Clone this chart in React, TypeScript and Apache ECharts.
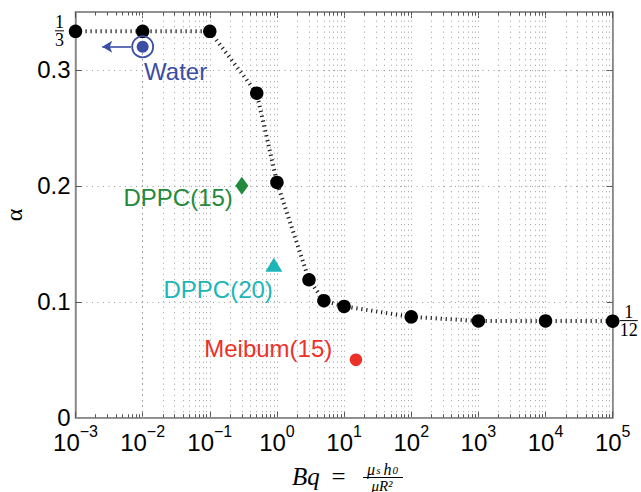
import React, { useEffect, useRef } from 'react';
import * as echarts from 'echarts';

// ---- data ----
const bqValues = [0.001, 0.01, 0.1, 0.5, 1, 3, 5, 10, 100, 1000, 10000, 100000];
const alphaValues = [1 / 3, 1 / 3, 1 / 3, 0.28, 0.203, 0.119, 0.101, 0.096, 0.087, 0.0835, 0.0835, 0.0833];
const waterPoint = [0.01, 0.32];
const dppc15Point = [0.3, 0.2];
const dppc20Point = [0.9, 0.132];
const meibumPoint = [15, 0.05];
const waterArrowFrom = [0.0067, 0.32];
const waterArrowTo = [0.0025, 0.32];
const yTickValues = [0, 0.1, 0.2, 0.3];
const yTickLabelValues = [0, 0.1, 0.2, 0.3, 1 / 3];
const rightLabelValues = [1 / 12];
const xMinExp = -3;
const xMaxExp = 5;

const SANS = '"Liberation Sans", Arial, Helvetica, sans-serif';
const SERIF = '"Liberation Serif", "Times New Roman", serif';
const AXIS_GRAY = '#8a8a8a';
const GRID_GRAY = '#9c9c9c';
const BLUE = '#3b4ea5';
const GREEN = '#238a3c';
const TEAL = '#1cb6b9';
const RED = '#ec3129';

// log grid positions m*10^k (axis structure)
const gridVals: number[] = [];
const minorVals: number[] = [];
for (let k = xMinExp; k < xMaxExp; k++) {
  for (let m = 1; m <= 9; m++) {
    const v = +(m * Math.pow(10, k)).toPrecision(6);
    if (!(k === xMinExp && m === 1)) gridVals.push(v);
    if (m !== 1) minorVals.push(v);
  }
}

const fracRich = {
  n: { fontFamily: SERIF, fontSize: 18, lineHeight: 15, width: 22, align: 'center', color: '#000' },
  d: { fontFamily: SERIF, fontSize: 18, lineHeight: 16, width: 22, align: 'center', color: '#000' },
  bs: { width: 9, height: 1, lineHeight: 3, align: 'center', backgroundColor: '#000', fontSize: 1 },
  bl: { width: 18, height: 1, lineHeight: 3, align: 'center', backgroundColor: '#000', fontSize: 1 },
  t: { fontFamily: SANS, fontSize: 24, color: '#000' },
};

const expRich = {
  b: { fontFamily: SANS, fontSize: 24, lineHeight: 31, verticalAlign: 'bottom', color: '#000' },
  e: { fontFamily: SANS, fontSize: 16, lineHeight: 16, verticalAlign: 'top', color: '#000' },
};

function expLabel(v: number) {
  const e = Math.round(Math.log10(v));
  return '{b|10}{e|' + (e < 0 ? '\u2212' + -e : String(e)) + '}';
}

function yLabel(v: number) {
  if (Math.abs(v - 1 / 3) < 1e-9) return '{n|1}\n{bs| }\n{d|3}';
  return '{t|' + (v === 0 ? '0' : v.toFixed(1)) + '}';
}

function buildOption() {
  const gridLineStyle = { color: GRID_GRAY, width: 1, type: [1, 4.5] };
  const tickStyle = { color: '#555', width: 1, type: 'solid' };
  const markData: any[] = gridVals.map((v) => ({ xAxis: v, lineStyle: gridLineStyle }));
  minorVals.forEach((v) => {
    markData.push([{ coord: [v, 0], lineStyle: tickStyle }, { coord: [v, 0.003] }]);
    markData.push([{ coord: [v, 0.35], lineStyle: tickStyle }, { coord: [v, 0.347] }]);
  });

  const markerLabel = (text: string, color: string, offset: number[]) => ({
    show: true,
    position: 'inside',
    offset,
    formatter: () => text,
    color,
    opacity: 1,
    fontSize: 24,
    fontFamily: SANS,
  });

  return {
    animation: false,
    backgroundColor: '#ffffff',
    grid: {
      left: 75.5,
      right: 28.3,
      top: 12,
      bottom: 74.3,
      containLabel: false,
      outerBoundsMode: 'none',
      show: true,
      borderColor: AXIS_GRAY,
      borderWidth: 1.5,
      backgroundColor: '#ffffff',
    },
    xAxis: [
      {
        type: 'log',
        logBase: 10,
        min: Math.pow(10, xMinExp),
        max: Math.pow(10, xMaxExp),
        interval: 1,
        position: 'bottom',
        axisLine: { show: true, onZero: false, lineStyle: { color: AXIS_GRAY, width: 1.5 } },
        axisTick: { show: true, inside: true, length: 6, lineStyle: { color: '#555' } },
        axisLabel: {
          show: true,
          interval: 0,
          showMinLabel: true,
          showMaxLabel: true,
          margin: 6,
          formatter: expLabel,
          rich: expRich,
        },
        splitLine: { show: false },
      },
      {
        type: 'log',
        logBase: 10,
        min: Math.pow(10, xMinExp),
        max: Math.pow(10, xMaxExp),
        interval: 1,
        position: 'top',
        axisLine: { show: true, onZero: false, lineStyle: { color: AXIS_GRAY, width: 1.5 } },
        axisTick: { show: true, inside: true, length: 6, lineStyle: { color: '#555' } },
        axisLabel: { show: false },
        splitLine: { show: false },
      },
    ],
    yAxis: [
      {
        type: 'value',
        min: 0,
        max: 0.35,
        interval: 0.1,
        position: 'left',
        name: '\u03b1',
        nameLocation: 'middle',
        nameRotate: 90,
        nameGap: 48,
        nameTextStyle: { fontFamily: SERIF, fontSize: 24, lineHeight: 18, color: '#000' },
        axisLine: { show: true, onZero: false, lineStyle: { color: AXIS_GRAY, width: 1.5 } },
        axisTick: { show: true, inside: true, length: 6, customValues: yTickValues.slice(1), lineStyle: { color: '#555' } },
        axisLabel: {
          show: true,
          margin: 5,
          customValues: yTickLabelValues,
          formatter: yLabel,
          rich: fracRich,
        },
        splitLine: { show: true, lineStyle: gridLineStyle },
      },
      {
        type: 'value',
        min: 0,
        max: 0.35,
        interval: 0.1,
        position: 'right',
        axisLine: { show: true, onZero: false, lineStyle: { color: AXIS_GRAY, width: 1.5 } },
        axisTick: { show: true, inside: true, length: 6, customValues: yTickValues.slice(1), lineStyle: { color: '#555' } },
        axisLabel: {
          show: true,
          margin: 5,
          customValues: rightLabelValues,
          formatter: () => '{n|1}\n{bl| }\n{d|12}',
          rich: fracRich,
        },
        splitLine: { show: false },
      },
    ],
    series: [
      {
        type: 'line',
        name: 'theory',
        xAxisIndex: 0,
        yAxisIndex: 0,
        data: bqValues.map((x, i) => [x, alphaValues[i]]),
        symbol: 'circle',
        symbolSize: 13.5,
        showSymbol: true,
        itemStyle: { color: '#000', opacity: 1 },
        lineStyle: { color: '#222', width: 4, type: [1.2, 3.8] },
        z: 3,
        silent: true,
        markLine: {
          silent: true,
          z: 1,
          symbol: ['none', 'none'],
          label: { show: false },
          data: markData,
        },
      },
      {
        type: 'scatter',
        name: 'Water ring',
        data: [waterPoint],
        symbol: 'circle',
        symbolSize: 21,
        itemStyle: { color: 'transparent', borderColor: BLUE, borderWidth: 1.8, opacity: 1 },
        z: 4,
        silent: true,
      },
      {
        type: 'scatter',
        name: 'Water',
        data: [waterPoint],
        symbol: 'circle',
        symbolSize: 12,
        itemStyle: { color: BLUE, opacity: 1 },
        label: markerLabel('Water', BLUE, [33, 24.5]),
        z: 4,
        silent: true,
        markLine: {
          silent: true,
          symbol: ['none', 'arrow'],
          symbolSize: [9, 10],
          label: { show: false },
          lineStyle: { color: BLUE, width: 1.6, type: 'solid', opacity: 1 },
          data: [[{ coord: waterArrowFrom }, { coord: waterArrowTo }]],
        },
      },
      {
        type: 'scatter',
        name: 'DPPC(15)',
        data: [dppc15Point],
        symbol: 'diamond',
        symbolSize: [13, 18],
        itemStyle: { color: GREEN, opacity: 1 },
        label: markerLabel('DPPC(15)', GREEN, [-63.7, 12]),
        z: 4,
        silent: true,
      },
      {
        type: 'scatter',
        name: 'DPPC(20)',
        data: [dppc20Point],
        symbol: 'triangle',
        symbolSize: [17, 14],
        itemStyle: { color: TEAL, opacity: 1 },
        label: markerLabel('DPPC(20)', TEAL, [-55.7, 25]),
        z: 4,
        silent: true,
      },
      {
        type: 'scatter',
        name: 'Meibum(15)',
        data: [meibumPoint],
        symbol: 'circle',
        symbolSize: 12.5,
        itemStyle: { color: RED, opacity: 1 },
        label: markerLabel('Meibum(15)', RED, [-87.7, -11]),
        z: 4,
        silent: true,
      },
    ],
    graphic: [
      {
        type: 'text',
        x: 292,
        y: 476,
        style: {
          text: 'Bq',
          fontFamily: SERIF,
          fontStyle: 'italic',
          fontSize: 25,
          fill: '#000',
          align: 'left',
          verticalAlign: 'middle',
        },
      },
      {
        type: 'text',
        x: 338.5,
        y: 476,
        style: { text: '=', fontFamily: SERIF, fontSize: 25, fill: '#000', align: 'center', verticalAlign: 'middle' },
      },
      {
        type: 'text',
        x: 383,
        y: 469,
        style: {
          text: '{i|\u03bc}{s|s}{i|h}{s|0}',
          align: 'center',
          verticalAlign: 'middle',
          rich: {
            i: { fontFamily: SERIF, fontStyle: 'italic', fontSize: 16, fill: '#000', lineHeight: 12, padding: [0, 1, 0, 1] },
            s: { fontFamily: SERIF, fontStyle: 'italic', fontSize: 11, fill: '#000', lineHeight: 9, verticalAlign: 'bottom', padding: [0, 2, 0, 0] },
          },
        },
      },
      {
        type: 'line',
        shape: { x1: 363, y1: 477.5, x2: 403, y2: 477.5 },
        style: { stroke: '#000', lineWidth: 1 },
      },
      {
        type: 'text',
        x: 382,
        y: 485.5,
        style: {
          text: '\u03bcR\u00b2',
          fontFamily: SERIF,
          fontStyle: 'italic',
          fontSize: 15,
          fill: '#000',
          align: 'center',
          verticalAlign: 'middle',
        },
      },
    ],
  };
}

export default function App() {
  const ref = useRef<HTMLDivElement>(null);
  useEffect(() => {
    if (!ref.current) return;
    const chart = echarts.init(ref.current, null, { renderer: 'svg' });
    chart.setOption(buildOption() as any);
    return () => chart.dispose();
  }, []);
  return (
    <div
      ref={ref}
      style={{ position: 'absolute', left: 0, top: 0, width: 641, height: 492, background: '#fff' }}
    />
  );
}
